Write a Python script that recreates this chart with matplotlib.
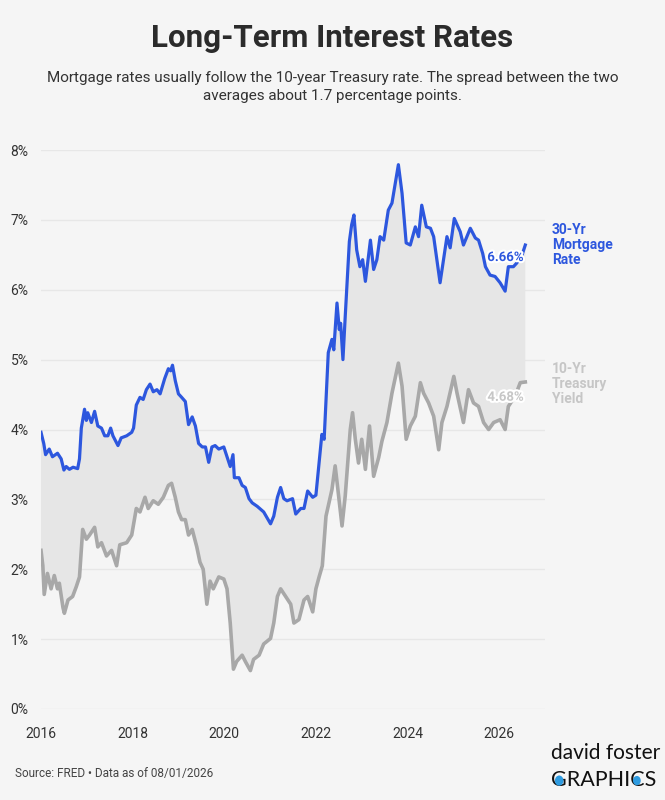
import numpy as np
import matplotlib
matplotlib.use("Agg")
import matplotlib.pyplot as plt
import matplotlib.patheffects as pe
from matplotlib.patches import Circle

# ---- data (decimal years) ----
mortgage_t = [
    2016.00, 2016.06, 2016.10, 2016.18, 2016.25, 2016.36, 2016.44, 2016.50, 2016.55, 2016.62,
    2016.70, 2016.80, 2016.84, 2016.88, 2016.95, 2016.99, 2017.02, 2017.10, 2017.17, 2017.24,
    2017.32, 2017.39, 2017.46, 2017.52, 2017.57, 2017.68, 2017.75, 2017.87, 2017.98, 2018.02,
    2018.08, 2018.16, 2018.23, 2018.30, 2018.38, 2018.45, 2018.53, 2018.60, 2018.70, 2018.78,
    2018.83, 2018.87, 2018.93, 2019.00, 2019.07, 2019.15, 2019.22, 2019.30, 2019.37, 2019.44,
    2019.52, 2019.59, 2019.66, 2019.73, 2019.80, 2019.88, 2019.99, 2020.06, 2020.13, 2020.19,
    2020.22, 2020.32, 2020.39, 2020.46, 2020.54, 2020.61, 2020.72, 2020.86, 2020.94, 2021.01,
    2021.08, 2021.16, 2021.23, 2021.30, 2021.37, 2021.49, 2021.56, 2021.67, 2021.74, 2021.82,
    2021.93, 2022.00, 2022.07, 2022.13, 2022.18, 2022.27, 2022.35, 2022.39, 2022.46, 2022.51,
    2022.54, 2022.59, 2022.64, 2022.73, 2022.78, 2022.83, 2022.89, 2022.96, 2023.02, 2023.08,
    2023.19, 2023.26, 2023.33, 2023.40, 2023.48, 2023.58, 2023.66, 2023.80, 2023.88, 2023.97,
    2024.06, 2024.17, 2024.24, 2024.31, 2024.41, 2024.50, 2024.57, 2024.71, 2024.86, 2024.93,
    2025.02, 2025.15, 2025.22, 2025.37, 2025.48, 2025.55, 2025.64, 2025.70, 2025.80, 2025.91,
    2026.02, 2026.13, 2026.20, 2026.31, 2026.38, 2026.49, 2026.57,
]
mortgage = [
    3.96, 3.80, 3.64, 3.72, 3.61, 3.66, 3.58, 3.42, 3.47, 3.43,
    3.46, 3.44, 3.58, 4.02, 4.29, 4.13, 4.24, 4.10, 4.26, 4.05,
    4.02, 3.91, 3.91, 4.02, 3.91, 3.77, 3.88, 3.91, 3.96, 4.02,
    4.35, 4.46, 4.43, 4.57, 4.65, 4.54, 4.57, 4.51, 4.73, 4.87,
    4.84, 4.92, 4.70, 4.51, 4.46, 4.40, 4.07, 4.18, 4.05, 3.80,
    3.75, 3.75, 3.53, 3.75, 3.77, 3.72, 3.75, 3.61, 3.47, 3.64,
    3.31, 3.31, 3.20, 3.17, 3.01, 2.95, 2.90, 2.82, 2.73, 2.65,
    2.76, 3.03, 3.17, 3.01, 2.98, 3.01, 2.79, 2.87, 2.87, 3.12,
    3.03, 3.06, 3.53, 3.93, 3.86, 5.10, 5.29, 5.14, 5.81, 5.43,
    5.52, 5.00, 5.62, 6.69, 6.93, 7.07, 6.57, 6.33, 6.43, 6.12,
    6.71, 6.29, 6.43, 6.76, 6.71, 7.14, 7.24, 7.79, 7.38, 6.67,
    6.64, 6.90, 6.76, 7.21, 6.90, 6.88, 6.76, 6.10, 6.76, 6.60,
    7.02, 6.83, 6.64, 6.88, 6.74, 6.71, 6.52, 6.33, 6.21, 6.19,
    6.10, 5.98, 6.33, 6.33, 6.38, 6.48, 6.64,
]

treasury_t = [
    2016.00, 2016.04, 2016.07, 2016.14, 2016.22, 2016.29, 2016.36, 2016.40, 2016.48, 2016.51,
    2016.59, 2016.69, 2016.77, 2016.84, 2016.91, 2016.99, 2017.06, 2017.17, 2017.24, 2017.32,
    2017.43, 2017.54, 2017.65, 2017.72, 2017.87, 2017.98, 2018.08, 2018.16, 2018.27, 2018.34,
    2018.45, 2018.56, 2018.67, 2018.78, 2018.85, 2018.93, 2019.00, 2019.07, 2019.15, 2019.22,
    2019.30, 2019.40, 2019.47, 2019.54, 2019.62, 2019.69, 2019.76, 2019.88, 2019.99, 2020.06,
    2020.13, 2020.20, 2020.27, 2020.39, 2020.46, 2020.57, 2020.64, 2020.76, 2020.86, 2021.01,
    2021.08, 2021.16, 2021.23, 2021.34, 2021.45, 2021.52, 2021.63, 2021.74, 2021.82, 2021.93,
    2022.00, 2022.07, 2022.14, 2022.22, 2022.35, 2022.42, 2022.48, 2022.57, 2022.64, 2022.75,
    2022.80, 2022.86, 2022.93, 2023.00, 2023.08, 2023.17, 2023.26, 2023.37, 2023.44, 2023.55,
    2023.66, 2023.80, 2023.88, 2023.97, 2024.06, 2024.17, 2024.28, 2024.35, 2024.46, 2024.57,
    2024.68, 2024.75, 2024.86, 2025.01, 2025.08, 2025.22, 2025.33, 2025.44, 2025.55, 2025.66,
    2025.77, 2025.88, 2026.02, 2026.13, 2026.20, 2026.35, 2026.46, 2026.57,
]
treasury = [
    2.27, 2.05, 1.64, 1.94, 1.72, 1.91, 1.72, 1.80, 1.45, 1.37,
    1.56, 1.61, 1.75, 1.89, 2.57, 2.43, 2.49, 2.60, 2.32, 2.38,
    2.19, 2.27, 2.05, 2.35, 2.38, 2.49, 2.87, 2.82, 3.03, 2.87,
    2.98, 2.93, 3.03, 3.20, 3.23, 3.03, 2.82, 2.71, 2.71, 2.49,
    2.57, 2.32, 2.10, 2.00, 1.50, 1.83, 1.72, 1.89, 1.86, 1.72,
    1.23, 0.57, 0.68, 0.77, 0.68, 0.55, 0.71, 0.77, 0.93, 1.01,
    1.23, 1.61, 1.72, 1.61, 1.50, 1.23, 1.28, 1.56, 1.61, 1.39,
    1.72, 1.89, 2.05, 2.76, 3.14, 3.48, 3.14, 2.62, 3.05, 4.00,
    4.24, 3.86, 3.52, 3.86, 3.43, 4.05, 3.33, 3.60, 3.83, 4.10,
    4.52, 4.95, 4.62, 3.86, 4.05, 4.19, 4.67, 4.52, 4.38, 4.19,
    3.71, 4.10, 4.33, 4.76, 4.52, 4.10, 4.57, 4.38, 4.33, 4.10,
    4.00, 4.10, 4.14, 4.00, 4.33, 4.48, 4.67, 4.68,
]

year_ticks = [2016, 2018, 2020, 2022, 2024, 2026]
rate_ticks = [0, 1, 2, 3, 4, 5, 6, 7, 8]

BG = "#f5f5f5"
BLUE = "#2d57de"
GRAY = "#a8a8a8"
LIGHT = "#c6c6c6"
TXT = "#333333"

plt.rcParams["font.family"] = ["Roboto", "DejaVu Sans"]

fig = plt.figure(figsize=(6.65, 8), dpi=100, facecolor=BG)
ax = fig.add_axes([41 / 665, 91 / 800, 504 / 665, 559 / 800])
ax.set_facecolor(BG)

# spread band
band_x = np.r_[mortgage_t, treasury_t[::-1]]
band_y = np.r_[mortgage, treasury[::-1]]
ax.fill(band_x, band_y, color="#e6e6e6", lw=0, zorder=1)

ax.plot(treasury_t, treasury, color=GRAY, lw=2.6, solid_joinstyle="round", zorder=3)
ax.plot(mortgage_t, mortgage, color=BLUE, lw=2.3, solid_joinstyle="round", zorder=4)

ax.set_xlim(2016, 2027)
ax.set_ylim(0, 8)
ax.set_xticks(year_ticks)
ax.set_xticklabels([str(y) for y in year_ticks])
ax.set_yticks(rate_ticks)
ax.set_yticklabels([f"{r}%" for r in rate_ticks])
ax.tick_params(length=0, labelsize=10, colors=TXT)
ax.tick_params(axis="x", pad=13)
ax.tick_params(axis="y", pad=9)
ax.yaxis.grid(True, color="#e7e7e7", lw=1)
ax.set_axisbelow(True)
for s in ax.spines.values():
    s.set_visible(False)

# end labels
halo = [pe.withStroke(linewidth=3, foreground="white")]
ax.annotate("6.66%", (mortgage_t[-1], mortgage[-1]), xytext=(-1, -9), textcoords="offset points",
            ha="right", va="center", fontsize=9.5, fontweight="bold", color=BLUE,
            path_effects=halo, zorder=6)
ax.annotate("4.68%", (treasury_t[-1], treasury[-1]), xytext=(-1, -11), textcoords="offset points",
            ha="right", va="center", fontsize=9.5, fontweight="bold", color=LIGHT,
            path_effects=halo, zorder=6)

# series names on the right
fig.text(552 / 665, 1 - 245 / 800, "30-Yr\nMortgage\nRate", ha="left", va="center",
         fontsize=10, fontweight="bold", color=BLUE, linespacing=1.05)
fig.text(552 / 665, 1 - 384 / 800, "10-Yr\nTreasury\nYield", ha="left", va="center",
         fontsize=10, fontweight="bold", color=LIGHT, linespacing=1.05)

# title block
fig.text(0.5, 1 - 38 / 800, "Long-Term Interest Rates", ha="center", va="center",
         fontsize=22.5, fontweight="bold", color="#2b2b2b")
fig.text(0.5, 1 - 87 / 800,
         "Mortgage rates usually follow the 10-year Treasury rate. The spread between the two\n"
         "averages about 1.7 percentage points.",
         ha="center", va="center", fontsize=11, color=TXT, linespacing=1.3)

# footer
fig.text(15 / 665, 1 - 773 / 800, "Source: FRED \u2022 Data as of 08/01/2026", ha="left", va="center",
         fontsize=8.5, color="#444444")

LOGO_FONT = ["Lato", "DejaVu Sans"]
fig.text(551 / 665, 1 - 753 / 800, "david foster", ha="left", va="center",
         fontsize=15, color="#111111", family=LOGO_FONT)
logo = fig.text(551 / 665, 1 - 780 / 800, "GRAPHICS", ha="left", va="center",
                fontsize=15.5, color="#111111", family=LOGO_FONT)

# blue dots inside the G and C of the logo
fig.canvas.draw()
r = fig.canvas.get_renderer()
full = logo.get_window_extent(r)
word = "GRAPHICS"
for idx, frac in ((0, 0.52), (6, 0.46)):
    x0 = 0
    if idx:
        tmp = fig.text(0, 0, word[:idx], fontsize=15.5, family=LOGO_FONT)
        x0 = tmp.get_window_extent(r).width
        tmp.remove()
    tmp = fig.text(0, 0, word[idx], fontsize=15.5, family=LOGO_FONT)
    w = tmp.get_window_extent(r).width
    tmp.remove()
    cx = (full.x0 + x0 + w * frac) / fig.bbox.width
    cy = (full.y0 + full.height * 0.47) / fig.bbox.height
    fig.patches.append(Circle((cx, cy), radius=w * 0.27 / fig.bbox.width, transform=fig.transFigure,
                              facecolor="#2e9be0", edgecolor="none", zorder=5))

fig.savefig("out.png", dpi=100, facecolor=BG)
